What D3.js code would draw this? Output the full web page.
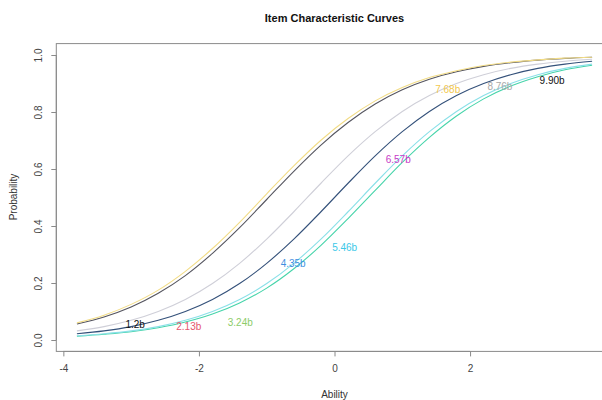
<!DOCTYPE html>
<html><head><meta charset="utf-8">
<script src="https://cdn.jsdelivr.net/npm/d3@7"></script>
<style>body{margin:0;background:#fff}svg{display:block}</style>
</head><body>
<svg id="c" width="602" height="400"></svg>
<script>
const theta = [-3.8,-3.4,-3.0,-2.6,-2.2,-1.8,-1.4,-1.0,-0.6,-0.2,0.2,0.6,1.0,1.4,1.8,2.2,2.6,3.0,3.4,3.8];
const curveYellow = [0.060,0.087,0.125,0.175,0.241,0.321,0.413,0.513,0.611,0.701,0.777,0.839,0.886,0.921,0.945,0.963,0.975,0.983,0.989,0.992];
const curveDark   = [0.056,0.081,0.116,0.164,0.226,0.304,0.394,0.493,0.592,0.684,0.763,0.828,0.878,0.915,0.941,0.960,0.973,0.982,0.988,0.992];
const curveGray   = [0.032,0.047,0.069,0.100,0.142,0.198,0.269,0.354,0.450,0.550,0.646,0.731,0.802,0.858,0.900,0.931,0.953,0.968,0.978,0.985];
const curveNavy   = [0.022,0.032,0.047,0.069,0.100,0.142,0.198,0.269,0.354,0.450,0.550,0.646,0.731,0.802,0.858,0.900,0.931,0.953,0.968,0.978];
const curveCyan   = [0.015,0.022,0.032,0.047,0.069,0.100,0.142,0.198,0.269,0.354,0.450,0.550,0.646,0.731,0.802,0.858,0.900,0.931,0.953,0.968];
const curveGreen  = [0.013,0.020,0.029,0.043,0.063,0.091,0.130,0.182,0.250,0.332,0.426,0.525,0.623,0.711,0.786,0.846,0.891,0.924,0.948,0.964];
const curveNames  = ["yellow","dark","gray","navy","cyan","green"];
const curveColors = ["#f2dc86","#55555f","#cfcfd8","#34517a","#8ae0e8","#46d4aa"];

const labelText  = ["1.2b","2.13b","3.24b","4.35b","5.46b","6.57b","7.68b","8.76b","9.90b"];
const labelTheta = [-2.94,-2.15,-1.39,-0.61,0.15,0.94,1.67,2.44,3.21];
const labelProb  = [0.056,0.046,0.060,0.270,0.326,0.632,0.880,0.888,0.909];
const labelColor = ["#111111","#e4566e","#8ccc6a","#3d8fe0","#3cc8e8","#c63ac6","#f2c84e","#a9a9a9","#111111"];

const xTicks = [-4,-2,0,2];
const yTicks = [0,0.2,0.4,0.6,0.8,1.0];

const svg = d3.select("#c");
const font = "'Liberation Sans', Arial, sans-serif";
const x = d3.scaleLinear().domain([-4.104,4.104]).range([56.3,612.7]);
const y = d3.scaleLinear().domain([-0.04,1.04]).range([351.4,43.6]);

const series = [curveYellow,curveDark,curveGray,curveNavy,curveCyan,curveGreen];
const line = d3.line().x((d,i)=>x(theta[i])).y(d=>y(d)).curve(d3.curveMonotoneX);

const order = [5,4,3,2,1,0];
svg.append("g").selectAll("path").data(order).join("path")
  .attr("d", k=>line(series[k]))
  .attr("fill","none")
  .attr("stroke", k=>curveColors[k])
  .attr("stroke-width",1.1);

svg.append("rect").attr("x",56.3).attr("y",43.6).attr("width",612.7-56.3).attr("height",351.4-43.6)
  .attr("fill","none").attr("stroke","#8a8a8a").attr("stroke-width",1);

const xa = svg.append("g").attr("transform","translate(0,351.4)")
  .call(d3.axisBottom(x).tickValues(xTicks).tickSize(5).tickPadding(9).tickFormat(d=>String(d)));
xa.select(".domain").attr("stroke","#8a8a8a").attr("d",`M${x(-4)},0H${x(2)}`);
xa.selectAll(".tick line").attr("stroke","#8a8a8a");
xa.selectAll("text").attr("font-family",font).attr("font-size",10).attr("fill","#444");

const ya = svg.append("g").attr("transform","translate(56.3,0)")
  .call(d3.axisLeft(y).tickValues(yTicks).tickSize(5).tickFormat(d3.format(".1f")));
ya.select(".domain").attr("stroke","#8a8a8a").attr("d",`M0,${y(0)}V${y(1)}`);
ya.selectAll(".tick line").attr("stroke","#8a8a8a");
ya.selectAll("text").attr("font-family",font).attr("font-size",10).attr("fill","#444")
  .attr("text-anchor","middle").attr("dy",null).attr("x",null)
  .attr("transform","translate(-18,0) rotate(-90)").attr("dominant-baseline","central");

svg.append("g").selectAll("text").data(labelText).join("text")
  .attr("x",(d,i)=>x(labelTheta[i])).attr("y",(d,i)=>y(labelProb[i]))
  .attr("text-anchor","middle").attr("dominant-baseline","central")
  .attr("font-family",font).attr("font-size",10)
  .attr("fill",(d,i)=>labelColor[i]).text(d=>d);

svg.append("text").attr("x",334.5).attr("y",22).attr("text-anchor","middle")
  .attr("font-family",font).attr("font-size",11).attr("font-weight","bold").attr("fill","#111")
  .text("Item Characteristic Curves");
svg.append("text").attr("x",334.5).attr("y",398).attr("text-anchor","middle")
  .attr("font-family",font).attr("font-size",10).attr("fill","#333").text("Ability");
svg.append("text").attr("transform","translate(17,197) rotate(-90)").attr("text-anchor","middle")
  .attr("font-family",font).attr("font-size",10).attr("fill","#333").text("Probability");
</script>
</body></html>
